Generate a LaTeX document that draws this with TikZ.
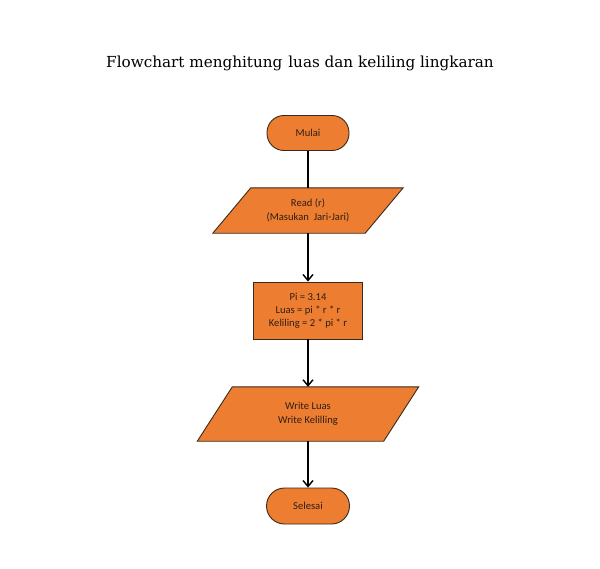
\documentclass[tikz,border=0pt]{standalone}
\usepackage{fontspec}
\setmainfont{Carlito}
\newfontfamily\titlefont{DejaVu Serif}
\usetikzlibrary{arrows.meta,calc}
\definecolor{boxorange}{HTML}{ED7D31}
\definecolor{boxline}{HTML}{3A2A1E}
\definecolor{boxtext}{HTML}{2E1E14}
\tikzset{
  x=1pt,y=-1pt,
  base/.style={fill=boxorange,draw=boxline,line width=0.9pt,font=\fontsize{10.6}{13}\selectfont,align=center,text=boxtext,inner sep=0pt},
  terminal/.style={base,rounded corners=17pt,minimum width=82pt,minimum height=35pt},
  procbox/.style={base,minimum width=109pt,minimum height=57pt},
  iobox/.style={font=\fontsize{10.6}{13.5}\selectfont,align=center,text=boxtext,inner sep=0pt},
  conn/.style={line width=1.4pt,black},
  arr/.style={conn,-{Straight Barb[length=6pt,width=10pt,line width=1.4pt]}},
  iofill/.style={fill=boxorange,draw=boxline,line width=0.9pt,line join=miter}
}
\begin{document}
\begin{tikzpicture}
\useasboundingbox[fill=white] (0,0) rectangle (600,568);
\node[font=\titlefont\fontsize{15.2}{18}\selectfont] (title) at (300,63) {Flowchart menghitung\hspace{6pt}luas dan keliling lingkaran};

\node[terminal] (mulai) at (308,133) {Mulai};

% Read parallelogram
\node[iobox,minimum width=152pt,minimum height=45pt] (read) at (308,210.5) {};
\draw[iofill] ($(read.north west)+(19,0)$) -- ($(read.north east)+(19,0)$) -- ($(read.south east)+(-19,0)$) -- ($(read.south west)+(-19,0)$) -- cycle;
\node[iobox] (readtxt) at (read.center) {Read (r)\\(Masukan\ \ Jari-Jari)};

\node[procbox] (proc) at (308,310.5) {Pi = 3.14\\Luas = pi * r * r\\Keliling = 2 * pi * r};

% Write parallelogram
\node[iobox,minimum width=186pt,minimum height=54pt] (write) at (308,414) {};
\draw[iofill] ($(write.north west)+(17.5,0)$) -- ($(write.north east)+(17.5,0)$) -- ($(write.south east)+(-17.5,0)$) -- ($(write.south west)+(-17.5,0)$) -- cycle;
\node[iobox] (writetxt) at (write.center) {Write Luas\\Write Kelilling};

\node[terminal,minimum width=83pt,minimum height=36pt,rounded corners=18pt] (selesai) at (308,506) {Selesai};

\draw[conn] (mulai.south) -- (read.north);
\draw[arr] (read.south) -- (proc.north);
\draw[arr] (proc.south) -- (write.north);
\draw[arr] (write.south) -- (selesai.north);
\end{tikzpicture}
\end{document}
